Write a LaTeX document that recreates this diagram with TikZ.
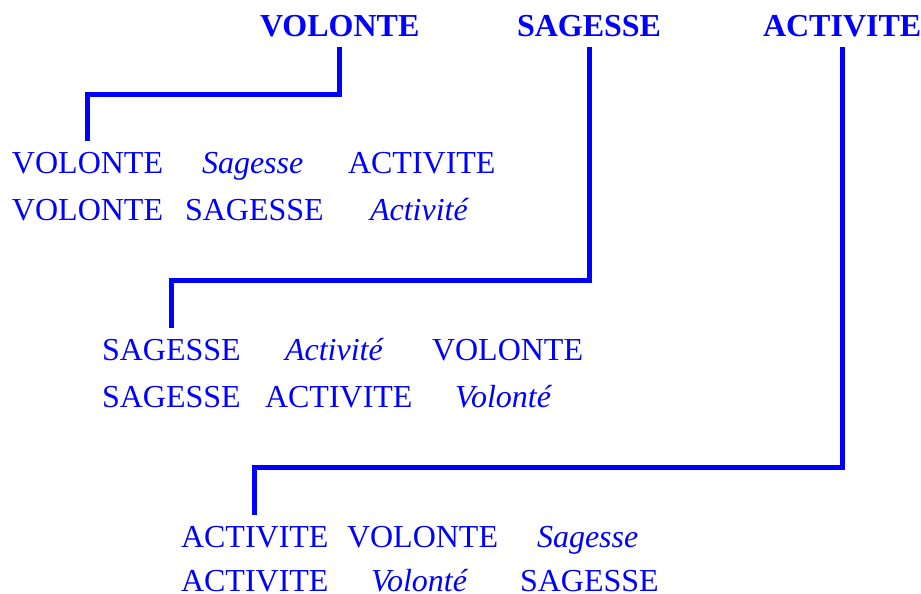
\documentclass[tikz,border=0pt]{standalone}
\usepackage{fontspec}
\setmainfont{Liberation Serif}
\definecolor{pureblue}{RGB}{0,0,255}
\tikzset{
  word/.style={anchor=base west, inner sep=0pt, outer sep=0pt, text=pureblue, font=\fontsize{32}{38}\selectfont},
  title/.style={word, font=\fontsize{32}{38}\selectfont\bfseries},
  it/.style={word, font=\fontsize{32}{38}\selectfont\itshape},
  conn/.style={draw=pureblue, line width=5pt, shorten <=10pt, shorten >=10.5pt}
}
\begin{document}
\begin{tikzpicture}[x=1pt,y=-1pt]
\useasboundingbox (0,0) rectangle (921,594);
% titles
\node[title] (t1) at (260,37) {VOLONTE};
\node[title] (t2) at (517,37) {SAGESSE};
\node[title] (t3) at (763,37) {ACTIVITE};
% block 1
\node[word] (a1) at (12,173) {VOLONTE};
\node[it]   (a2) at (202,173) {Sagesse};
\node[word] (a3) at (348,173) {ACTIVITE};
\node[word] (b1) at (12,220) {VOLONTE};
\node[word] (b2) at (185,220) {SAGESSE};
\node[it]   (b3) at (370,220) {Activité};
% block 2
\node[word] (c1) at (102,360) {SAGESSE};
\node[it]   (c2) at (285,360) {Activité};
\node[word] (c3) at (432,360) {VOLONTE};
\node[word] (d1) at (102,407) {SAGESSE};
\node[word] (d2) at (265,407) {ACTIVITE};
\node[it]   (d3) at (455,407) {Volonté};
% block 3
\node[word] (e1) at (181,547) {ACTIVITE};
\node[word] (e2) at (347,547) {VOLONTE};
\node[it]   (e3) at (537,547) {Sagesse};
\node[word] (f1) at (181,591) {ACTIVITE};
\node[it]   (f2) at (371,591) {Volonté};
\node[word] (f3) at (520,591) {SAGESSE};
% connector levels
\coordinate (h1) at (0,94);
\coordinate (h2) at (0,280);
\coordinate (h3) at (0,467);
\draw[conn] (t1.south) -- (t1.south |- h1) -| (a1.north);
\draw[conn] (t2.south) -- (t2.south |- h2) -| (c1.north);
\draw[conn] (t3.south) -- (t3.south |- h3) -| (e1.north);
\end{tikzpicture}
\end{document}
